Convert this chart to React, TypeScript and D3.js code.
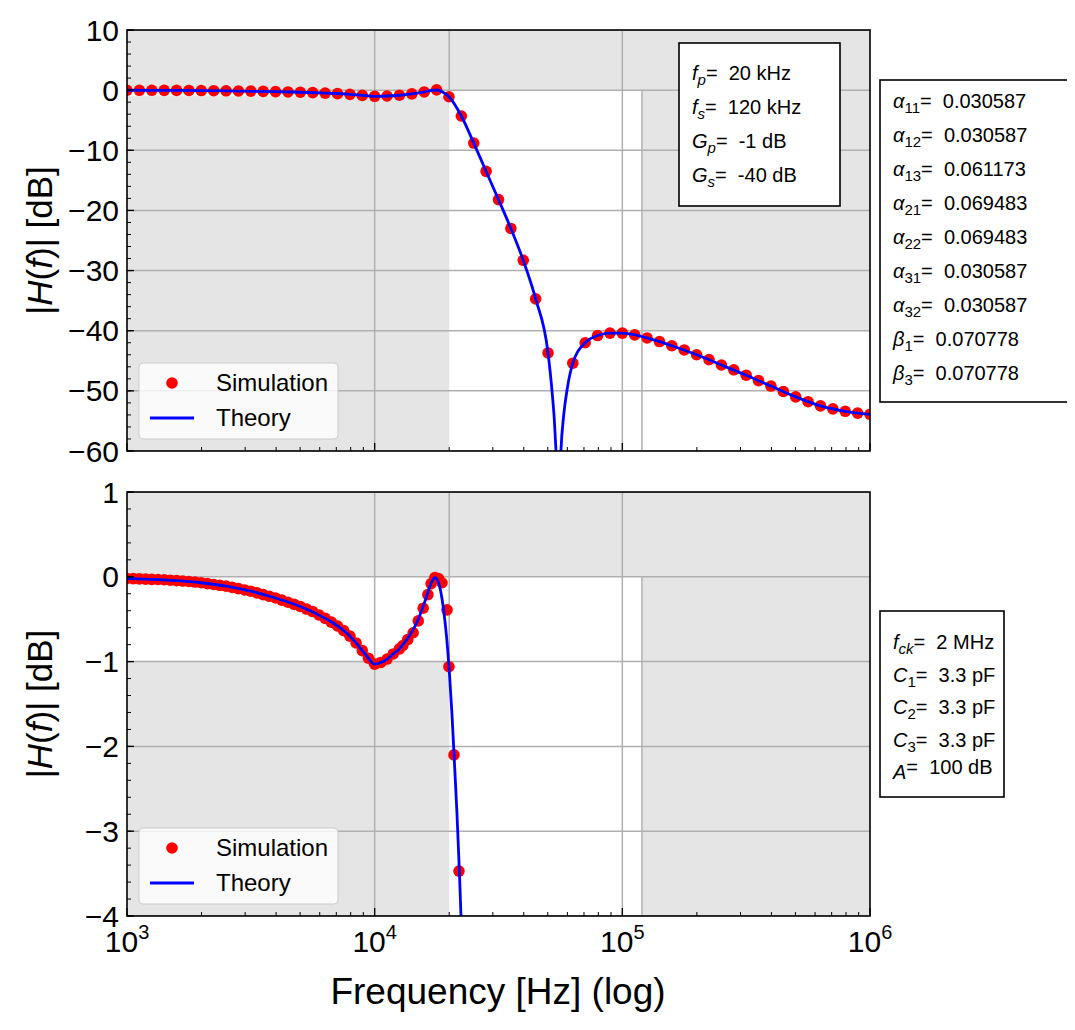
import * as d3 from "d3"

const W = 1075
const H = 1030
const X0 = 127
const X1 = 870
const TOP = { y0: 30, y1: 451, dom: [-60, 10] as [number, number] }
const BOT = { y0: 492, y1: 916, dom: [-4, 1] as [number, number] }

// top panel: simulation (20 pts / decade)
const topSimF = [
  1000, 1122, 1259, 1413, 1585, 1778, 1995, 2239, 2512, 2818, 3162, 3548, 3981, 4467, 5012, 5623, 6310, 7079,
  7943, 8913, 10000, 11220, 12589, 14125, 15849, 17783, 19953, 22387, 25119, 28184, 31623, 35481, 39811, 44668,
  50119, 63096, 70795, 79433, 89125, 100000, 112202, 125893, 141254, 158489, 177828, 199526, 223872, 251189,
  281838, 316228, 354813, 398107, 446684, 501187, 562341, 630957, 707946, 794328, 891251, 1000000,
]
const topSimV = [
  -0.02, -0.025, -0.03, -0.035, -0.045, -0.055, -0.07, -0.09, -0.11, -0.14, -0.17, -0.21, -0.25, -0.3, -0.35, -0.41,
  -0.49, -0.58, -0.7, -0.87, -1.02, -0.97, -0.85, -0.62, -0.3, 0.05, -1.1, -4.3, -8.8, -13.5, -18.2, -23.0, -28.3,
  -34.7, -43.7, -45.4, -42.0, -40.8, -40.4, -40.4, -40.7, -41.2, -41.8, -42.5, -43.2, -44.0, -44.8, -45.7, -46.5,
  -47.4, -48.3, -49.2, -50.1, -51.0, -51.8, -52.5, -53.0, -53.4, -53.7, -53.9,
]
// top panel: theory
const topThF = [
  1000, 1585, 2512, 3981, 6310, 7943, 8913, 10000, 11220, 12589, 14125, 15849, 17000, 17783, 18800, 19953, 22387,
  25119, 28184, 31623, 35481, 39811, 44668, 50119, 52000, 53500, 54500, 55000, 55600, 56500, 58000, 60000, 63096,
  70795, 79433, 89125, 100000, 125893, 158489, 199526, 251189, 316228, 398107, 501187, 630957, 794328, 1000000,
]
const topThV = [
  -0.02, -0.045, -0.11, -0.25, -0.49, -0.7, -0.87, -1.02, -0.97, -0.85, -0.62, -0.3, -0.03, 0.02, -0.3, -1.1, -4.3,
  -8.8, -13.5, -18.2, -23.0, -28.3, -34.7, -43.7, -50, -57, -66, -90, -68, -60, -54, -49.5, -45.4, -42.0, -40.8,
  -40.4, -40.4, -41.2, -42.5, -44.0, -45.7, -47.4, -49.2, -51.0, -52.5, -53.4, -53.9,
]

// bottom panel: simulation (dense to 12.6 kHz, then sparse)
const botSimF = [
  1000, 1059, 1122, 1189, 1259, 1334, 1413, 1496, 1585, 1679, 1778, 1884, 1995, 2113, 2239, 2371, 2512, 2661, 2818,
  2985, 3162, 3350, 3548, 3758, 3981, 4217, 4467, 4732, 5012, 5309, 5623, 5957, 6310, 6683, 7079, 7499, 7943, 8414,
  8913, 9441, 10000, 10593, 11220, 11885, 12589, 13000, 13600, 14300, 15000, 15700, 16400, 16900, 17500, 18100,
  18700, 19600, 19950, 20900, 21900,
]
const botSimV = [
  -0.02, -0.022, -0.025, -0.027, -0.03, -0.032, -0.035, -0.04, -0.045, -0.05, -0.055, -0.062, -0.07, -0.08, -0.09,
  -0.1, -0.11, -0.125, -0.14, -0.155, -0.17, -0.19, -0.21, -0.23, -0.25, -0.275, -0.3, -0.325, -0.35, -0.38, -0.41,
  -0.45, -0.49, -0.535, -0.58, -0.635, -0.7, -0.78, -0.87, -0.96, -1.03, -1.01, -0.97, -0.91, -0.85, -0.81, -0.74,
  -0.66, -0.52, -0.37, -0.21, -0.08, -0.01, -0.02, -0.07, -0.39, -1.06, -2.1, -3.47,
]
const botThF = [
  1000, 1259, 1585, 1995, 2512, 3162, 3981, 5012, 6310, 7079, 7943, 8414, 8913, 9441, 10000, 10593, 11220, 11885,
  12589, 13000, 14000, 15000, 16000, 17000, 17500, 18000, 18500, 19000, 19500, 20000, 20500, 21000, 21500, 22000,
  22500,
]
const botThV = [
  -0.02, -0.03, -0.045, -0.07, -0.11, -0.17, -0.25, -0.35, -0.49, -0.58, -0.7, -0.78, -0.87, -0.96, -1.03, -1.01,
  -0.97, -0.91, -0.85, -0.8, -0.67, -0.5, -0.28, -0.06, -0.01, -0.05, -0.18, -0.4, -0.7, -1.1, -1.6, -2.2, -2.8,
  -3.5, -4.3,
]

const topYTicks = [10, 0, -10, -20, -30, -40, -50, -60]
const botYTicks = [1, 0, -1, -2, -3, -4]
const topBox = [["f", "p", "20 kHz"], ["f", "s", "120 kHz"], ["G", "p", "-1 dB"], ["G", "s", "-40 dB"]]
const coefBox = [
  ["α", "11", "0.030587"], ["α", "12", "0.030587"], ["α", "13", "0.061173"], ["α", "21", "0.069483"],
  ["α", "22", "0.069483"], ["α", "31", "0.030587"], ["α", "32", "0.030587"], ["β", "1", "0.070778"],
  ["β", "3", "0.070778"],
]
const circBox = [["f", "ck", "2 MHz"], ["C", "1", "3.3 pF"], ["C", "2", "3.3 pF"], ["C", "3", "3.3 pF"], ["A", "", "100 dB"]]

const FONT = "Liberation Sans, Arial, sans-serif"
const x = d3.scaleLog().domain([1e3, 1e6]).range([X0, X1])

function Panel({ p, ticks, simF, simV, thF, thV, minorStep, showX, id }: any) {
  const y = d3.scaleLinear().domain(p.dom).range([p.y1, p.y0])
  const line = d3
    .line<number>()
    .x((_, i) => x(thF[i]))
    .y((v) => y(v))
    .curve(d3.curveMonotoneX)
  const minors = d3.range(p.dom[0], p.dom[1] + 1e-9, minorStep)
  const xMinor: number[] = []
  for (const dec of [1e3, 1e4, 1e5]) for (let k = 2; k <= 9; k++) xMinor.push(dec * k)
  const shade = "#e5e5e5"
  return (
    <g>
      <defs>
        <clipPath id={id}>
          <rect x={X0} y={p.y0} width={X1 - X0} height={p.y1 - p.y0} />
        </clipPath>
      </defs>
      <rect x={X0} y={p.y0} width={X1 - X0} height={p.y1 - p.y0} fill="#fff" />
      <g clipPath={`url(#${id})`} stroke="#b0b0b0" strokeWidth={1.5}>
        {/* forbidden regions of the mask */}
        <rect x={X0} y={p.y0} width={X1 - X0} height={y(0) - p.y0} fill={shade} stroke="none" />
        <rect x={X0} y={y(-1)} width={x(2e4) - X0} height={p.y1 - y(-1)} fill={shade} stroke="none" />
        <rect x={x(1.2e5)} y={p.y0} width={X1 - x(1.2e5)} height={Math.min(p.y1, y(-40)) - p.y0} fill={shade} stroke="none" />
        {[1e4, 1e5].map((f) => (
          <line key={f} x1={x(f)} x2={x(f)} y1={p.y0} y2={p.y1} />
        ))}
        {ticks.map((t: number) => (
          <line key={t} x1={X0} x2={X1} y1={y(t)} y2={y(t)} />
        ))}
        <line x1={x(2e4)} x2={x(2e4)} y1={p.y0} y2={Math.min(p.y1, y(-1))} />
        <line x1={x(1.2e5)} x2={x(1.2e5)} y1={y(0)} y2={p.y1} />
      </g>
      <g clipPath={`url(#${id})`}>
        {simF.map((f: number, i: number) => (
          <circle key={i} cx={x(f)} cy={y(simV[i])} r={5.8} fill="#ff0000" />
        ))}
        <path d={line(thV) ?? ""} fill="none" stroke="#0000ff" strokeWidth={2.8} />
      </g>
      <rect x={X0} y={p.y0} width={X1 - X0} height={p.y1 - p.y0} fill="none" stroke="#000" strokeWidth={1.6} />
      {/* y ticks */}
      {minors.map((t: number) => (
        <line key={t} x1={X0} x2={X0 + 4} y1={y(t)} y2={y(t)} stroke="#000" strokeWidth={1} />
      ))}
      {ticks.map((t: number) => (
        <g key={t}>
          <line x1={X0} x2={X0 + 7} y1={y(t)} y2={y(t)} stroke="#000" strokeWidth={1.3} />
          <text x={X0 - 8} y={y(t)} dy="0.35em" textAnchor="end" fontSize={30} fontFamily={FONT}>
            {t < 0 ? `\u2212${-t}` : t}
          </text>
        </g>
      ))}
      {/* x ticks */}
      {xMinor.map((f) => (
        <line key={f} x1={x(f)} x2={x(f)} y1={p.y1} y2={p.y1 - 4} stroke="#000" strokeWidth={1} />
      ))}
      {[1e3, 1e4, 1e5, 1e6].map((f) => (
        <g key={f}>
          <line x1={x(f)} x2={x(f)} y1={p.y1} y2={p.y1 - 8} stroke="#000" strokeWidth={1.3} />
          {showX && (
            <text x={x(f)} y={p.y1 + 36} textAnchor="middle" fontSize={30} fontFamily={FONT}>
              10<tspan dy={-13} fontSize={20}>{Math.log10(f)}</tspan>
            </text>
          )}
        </g>
      ))}
      <text transform={`translate(52,${(p.y0 + p.y1) / 2}) rotate(-90)`} textAnchor="middle" fontSize={35} fontFamily={FONT}>
        |<tspan fontStyle="italic">H</tspan>(<tspan fontStyle="italic">f</tspan>)| [dB]
      </text>
    </g>
  )
}

function Legend({ top }: { top: number }) {
  return (
    <g fontFamily={FONT} fontSize={24}>
      <rect x={139} y={top} width={199} height={76} rx={4} fill="#fff" fillOpacity={0.8} stroke="#ccc" strokeWidth={1} />
      <circle cx={172} cy={top + 20} r={5.8} fill="#ff0000" />
      <text x={216} y={top + 20} dy="0.35em">Simulation</text>
      <line x1={150} x2={194} y1={top + 55} y2={top + 55} stroke="#0000ff" strokeWidth={2.8} />
      <text x={216} y={top + 55} dy="0.35em">Theory</text>
    </g>
  )
}

function InfoBox({ x0, y0, w, h, rows, first, step }: any) {
  return (
    <g fontFamily={FONT} fontSize={20}>
      <rect x={x0} y={y0} width={w} height={h} fill="#fff" stroke="#000" strokeWidth={1.6} />
      {rows.map((r: string[], i: number) => (
        <text key={i} x={x0 + 13} y={first + i * step}>
          <tspan fontStyle="italic">{r[0]}</tspan>
          <tspan dy={5} fontSize={15} fontStyle={/\d/.test(r[1]) ? "normal" : "italic"}>{r[1]}</tspan>
          <tspan dy={-5}>{"=\u00a0\u00a0" + r[2]}</tspan>
        </text>
      ))}
    </g>
  )
}

export default function App() {
  return (
    <svg width={W} height={H} style={{ display: "block", margin: -8 }}>
      <rect width={W} height={H} fill="#fff" />
      <Panel id="c1" p={TOP} ticks={topYTicks} simF={topSimF} simV={topSimV} thF={topThF} thV={topThV} minorStep={2} showX={false} />
      <Panel id="c2" p={BOT} ticks={botYTicks} simF={botSimF} simV={botSimV} thF={botThF} thV={botThV} minorStep={0.2} showX />
      <Legend top={363} />
      <Legend top={828} />
      <InfoBox x0={679} y0={43} w={161} h={163} rows={topBox} first={80} step={34} />
      <InfoBox x0={880} y0={80} w={190} h={322} rows={coefBox} first={108} step={34} />
      <InfoBox x0={880} y0={611} w={124} h={186} rows={circBox} first={649} step={32.5} />
      <text x={498} y={1004} textAnchor="middle" fontSize={37} fontFamily={FONT}>Frequency [Hz] (log)</text>
    </svg>
  )
}
